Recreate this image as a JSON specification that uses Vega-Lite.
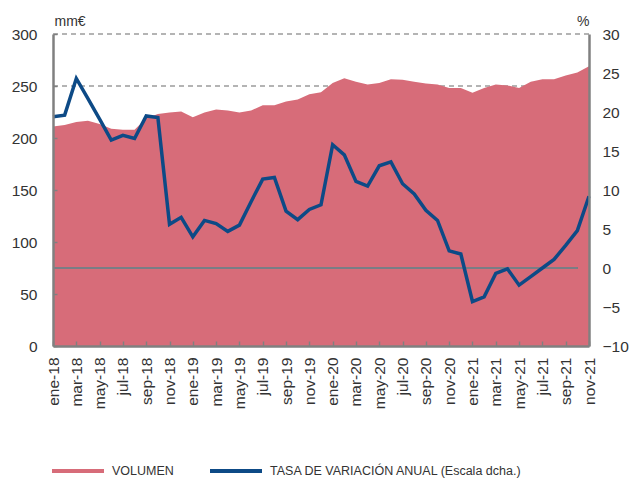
{
  "$schema": "https://vega.github.io/schema/vega-lite/v6.json",
  "autosize": "none",
  "width": 536,
  "height": 312,
  "padding": {"left": 53, "top": 34, "right": 43, "bottom": 133},
  "background": "white",
  "config": {
    "view": {"stroke": null},
    "font": "Liberation Sans",
    "axis": {
      "labelFont": "Liberation Sans",
      "labelFontSize": 15.5,
      "labelColor": "#333333",
      "domainColor": "#808080",
      "domainWidth": 2.5,
      "tickColor": "#808080",
      "tickWidth": 1.5,
      "titleFont": "Liberation Sans",
      "titleFontSize": 14,
      "titleFontWeight": "normal",
      "titleColor": "#333333",
      "labelOverlap": false
    }
  },
  "data": {
    "values": [
      {"mes": "ene-18", "volumen": 211, "tasa": 19.4},
      {"mes": "feb-18", "volumen": 212.5, "tasa": 19.6},
      {"mes": "mar-18", "volumen": 215.5, "tasa": 24.3},
      {"mes": "abr-18", "volumen": 216.5, "tasa": 21.7},
      {"mes": "may-18", "volumen": 213.5, "tasa": 19.1},
      {"mes": "jun-18", "volumen": 209, "tasa": 16.4},
      {"mes": "jul-18", "volumen": 208, "tasa": 17.0},
      {"mes": "ago-18", "volumen": 208, "tasa": 16.6},
      {"mes": "sep-18", "volumen": 219, "tasa": 19.5},
      {"mes": "oct-18", "volumen": 223, "tasa": 19.3},
      {"mes": "nov-18", "volumen": 224.5, "tasa": 5.6},
      {"mes": "dic-18", "volumen": 225.5, "tasa": 6.5},
      {"mes": "ene-19", "volumen": 220, "tasa": 4.0},
      {"mes": "feb-19", "volumen": 224.5, "tasa": 6.1},
      {"mes": "mar-19", "volumen": 227.5, "tasa": 5.7},
      {"mes": "abr-19", "volumen": 226.5, "tasa": 4.7},
      {"mes": "may-19", "volumen": 224.5, "tasa": 5.5},
      {"mes": "jun-19", "volumen": 226.5, "tasa": 8.5},
      {"mes": "jul-19", "volumen": 231.5, "tasa": 11.4},
      {"mes": "ago-19", "volumen": 231.5, "tasa": 11.6},
      {"mes": "sep-19", "volumen": 235, "tasa": 7.3},
      {"mes": "oct-19", "volumen": 237, "tasa": 6.2},
      {"mes": "nov-19", "volumen": 242, "tasa": 7.5},
      {"mes": "dic-19", "volumen": 244, "tasa": 8.1},
      {"mes": "ene-20", "volumen": 253, "tasa": 15.8},
      {"mes": "feb-20", "volumen": 257.5, "tasa": 14.5},
      {"mes": "mar-20", "volumen": 254, "tasa": 11.1},
      {"mes": "abr-20", "volumen": 251.5, "tasa": 10.5},
      {"mes": "may-20", "volumen": 253, "tasa": 13.1},
      {"mes": "jun-20", "volumen": 256.5, "tasa": 13.6},
      {"mes": "jul-20", "volumen": 256, "tasa": 10.8},
      {"mes": "ago-20", "volumen": 254, "tasa": 9.5},
      {"mes": "sep-20", "volumen": 252.5, "tasa": 7.4},
      {"mes": "oct-20", "volumen": 251.5, "tasa": 6.1},
      {"mes": "nov-20", "volumen": 248, "tasa": 2.2},
      {"mes": "dic-20", "volumen": 248, "tasa": 1.8},
      {"mes": "ene-21", "volumen": 243.5, "tasa": -4.3},
      {"mes": "feb-21", "volumen": 248, "tasa": -3.7},
      {"mes": "mar-21", "volumen": 251.5, "tasa": -0.7},
      {"mes": "abr-21", "volumen": 250.5, "tasa": -0.1},
      {"mes": "may-21", "volumen": 248, "tasa": -2.2},
      {"mes": "jun-21", "volumen": 254, "tasa": -1.1},
      {"mes": "jul-21", "volumen": 256.5, "tasa": 0.0},
      {"mes": "ago-21", "volumen": 256.5, "tasa": 1.1},
      {"mes": "sep-21", "volumen": 260, "tasa": 2.9},
      {"mes": "oct-21", "volumen": 263, "tasa": 4.8},
      {"mes": "nov-21", "volumen": 269, "tasa": 9.2}
    ]
  },
  "layer": [
    {
      "layer": [
        {
          "mark": {"type": "rule", "color": "#b3b3b3", "strokeWidth": 1.2, "strokeDash": [5, 4]},
          "encoding": {"y": {"datum": 250, "type": "quantitative"}}
        },
        {
          "mark": {"type": "rule", "color": "#b3b3b3", "strokeWidth": 1.2, "strokeDash": [5, 4]},
          "encoding": {"y": {"datum": 300, "type": "quantitative"}}
        },
        {
          "mark": {"type": "area", "opacity": 1},
          "encoding": {
            "x": {
              "field": "mes",
              "type": "ordinal",
              "sort": null,
              "scale": {
                "type": "point",
                "padding": 0,
                "domain": ["ene-18","feb-18","mar-18","abr-18","may-18","jun-18","jul-18","ago-18","sep-18","oct-18","nov-18","dic-18","ene-19","feb-19","mar-19","abr-19","may-19","jun-19","jul-19","ago-19","sep-19","oct-19","nov-19","dic-19","ene-20","feb-20","mar-20","abr-20","may-20","jun-20","jul-20","ago-20","sep-20","oct-20","nov-20","dic-20","ene-21","feb-21","mar-21","abr-21","may-21","jun-21","jul-21","ago-21","sep-21","oct-21","nov-21"]
              },
              "axis": {
                "title": null,
                "grid": false,
                "values": ["ene-18","mar-18","may-18","jul-18","sep-18","nov-18","ene-19","mar-19","may-19","jul-19","sep-19","nov-19","ene-20","mar-20","may-20","jul-20","sep-20","nov-20","ene-21","mar-21","may-21","jul-21","sep-21","nov-21"],
                "labelAngle": -90,
                "labelAlign": "right",
                "labelBaseline": "middle",
                "tickSize": -5,
                "labelPadding": 16,
                "zindex": 1
              }
            },
            "y": {
              "field": "volumen",
              "type": "quantitative",
              "scale": {"domain": [0, 300], "nice": false, "zero": true},
              "axis": {
                "title": "mm€",
                "titleAngle": 0,
                "titleAlign": "left",
                "titleBaseline": "alphabetic",
                "titleX": 1,
                "titleY": -9,
                "values": [0, 50, 100, 150, 200, 250, 300],
                "grid": false,
                "tickSize": -4,
                "labelPadding": 20,
                "zindex": 1
              }
            },
            "color": {
              "datum": "VOLUMEN",
              "type": "nominal",
              "scale": {
                "domain": ["VOLUMEN", "TASA DE VARIACIÓN ANUAL (Escala dcha.)"],
                "range": ["#d76c79", "#0d4a86"]
              },
              "legend": {
                "title": null,
                "orient": "none",
                "legendX": -3,
                "legendY": 409,
                "direction": "horizontal",
                "symbolType": "stroke",
                "symbolSize": 2704,
                "symbolStrokeWidth": 4,
                "labelFont": "Liberation Sans",
                "labelFontSize": 12.5,
                "labelLimit": 400,
                "labelColor": "#333333",
                "labelOffset": 6,
                "columnPadding": 28,
                "encode": {
                  "symbols": {
                    "update": {
                      "strokeWidth": {"signal": "datum.value === 'VOLUMEN' ? 10 : 4"},
                      "stroke": {"signal": "datum.value === 'VOLUMEN' ? '#d76c79' : '#0d4a86'"},
                      "opacity": {"value": 1},
                      "strokeOpacity": {"value": 1}
                    }
                  }
                }
              }
            }
          }
        }
      ]
    },
    {
      "layer": [
        {
          "mark": {"type": "rule", "color": "#7a7f86", "strokeWidth": 1.2},
          "encoding": {
            "x": {"datum": "ene-18", "type": "ordinal"},
            "x2": {"datum": "oct-21"},
            "y": {
              "datum": 0,
              "type": "quantitative",
              "axis": {
                "orient": "right",
                "title": "%",
                "titleAngle": 0,
                "titleAlign": "right",
                "titleBaseline": "alphabetic",
                "titleX": 0,
                "titleY": -9,
                "values": [-10, -5, 0, 5, 10, 15, 20, 25, 30],
                "grid": false,
                "ticks": false,
                "labelPadding": 13,
                "labelAlign": "left",
                "zindex": 1
              }
            }
          }
        },
        {
          "mark": {"type": "line", "strokeWidth": 3.5, "strokeJoin": "miter", "strokeCap": "butt"},
          "encoding": {
            "x": {"field": "mes", "type": "ordinal", "sort": null},
            "y": {
              "field": "tasa",
              "type": "quantitative",
              "scale": {"domain": [-10, 30], "nice": false},
              "axis": {
                "orient": "right",
                "title": "%",
                "titleAngle": 0,
                "titleAlign": "right",
                "titleBaseline": "alphabetic",
                "titleX": 0,
                "titleY": -9,
                "values": [-10, -5, 0, 5, 10, 15, 20, 25, 30],
                "grid": false,
                "ticks": false,
                "labelPadding": 13,
                "labelAlign": "left",
                "zindex": 1
              }
            },
            "color": {"datum": "TASA DE VARIACIÓN ANUAL (Escala dcha.)", "type": "nominal"}
          }
        }
      ]
    }
  ],
  "resolve": {"scale": {"y": "independent"}}
}
